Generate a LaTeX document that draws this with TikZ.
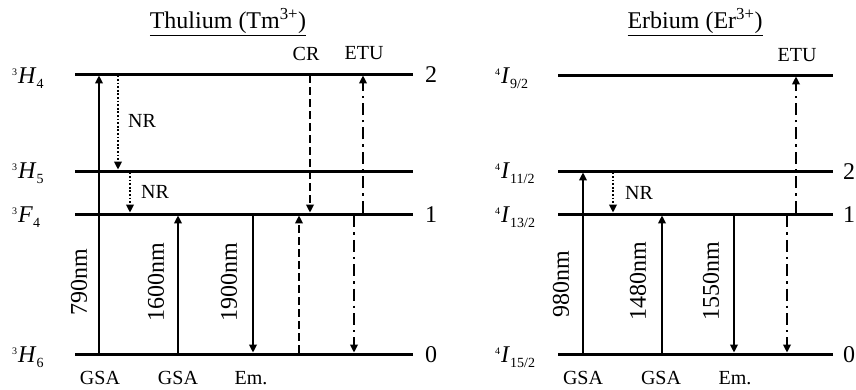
\documentclass[tikz,border=0pt]{standalone}
\usepackage{fontspec}
\setmainfont{Liberation Serif}
\usetikzlibrary{arrows.meta}
\newcommand{\levlab}[3]{{\fontsize{10}{10}\selectfont\raisebox{8pt}{#1}}\kern1pt{\fontsize{24}{24}\selectfont\textit{#2}}\raisebox{-5pt}{\fontsize{14}{14}\selectfont #3}}
\begin{document}
\begin{tikzpicture}[x=1pt,y=-1pt,
  level/.style={line width=3pt},
  tr/.style={line width=2.6pt,-{Triangle[length=8pt,width=7.5pt]},shorten >=1.4pt,shorten <=1.4pt},
  nrline/.style={tr,dash pattern=on 1.8pt off 1.8pt},
  crline/.style={tr,dash pattern=on 8pt off 4pt},
  etuline/.style={tr,dash pattern=on 12pt off 5pt on 2.4pt off 5pt},
  small/.style={font=\fontsize{20}{22}\selectfont,inner sep=0pt},
  big/.style={font=\fontsize{24}{26}\selectfont,inner sep=0pt},
  wl/.style={big,rotate=90},
  bot/.style={small,anchor=base},
  lab/.style={anchor=base west,inner sep=0pt}]
\useasboundingbox (0,0) rectangle (856,389);
% ---------- Thulium levels
\coordinate (T2l) at (75,74);  \coordinate (T2r) at (413,74);
\coordinate (T5l) at (75,171); \coordinate (T5r) at (413,171);
\coordinate (T1l) at (75,214); \coordinate (T1r) at (413,214);
\coordinate (T0l) at (75,354); \coordinate (T0r) at (413,354);
\draw[level] (T2l) -- (T2r);
\draw[level] (T5l) -- (T5r);
\draw[level] (T1l) -- (T1r);
\draw[level] (T0l) -- (T0r);
% ---------- Erbium levels
\coordinate (E2l) at (558,75);  \coordinate (E2r) at (833,75);
\coordinate (E5l) at (558,171); \coordinate (E5r) at (833,171);
\coordinate (E1l) at (558,214); \coordinate (E1r) at (833,214);
\coordinate (E0l) at (558,354); \coordinate (E0r) at (833,354);
\draw[level] (E2l) -- (E2r);
\draw[level] (E5l) -- (E5r);
\draw[level] (E1l) -- (E1r);
\draw[level] (E0l) -- (E0r);
% ---------- titles
\node[big] (tTm) at (228,22) {\underline{Thulium (Tm\textsuperscript{3+})}};
\node[big] (tEr) at (695,22) {\underline{Erbium (Er\textsuperscript{3+})}};
% ---------- level labels
\node[lab] (lT2) at (12,83) {\levlab{3}{H}{4}};
\node[lab] (lT5) at (12,178) {\levlab{3}{H}{5}};
\node[lab] (lT1) at (12,222) {\levlab{3}{F}{4}};
\node[lab] (lT0) at (12,362) {\levlab{3}{H}{6}};
\node[lab] (lE2) at (495,83) {\levlab{4}{I}{9/2}};
\node[lab] (lE5) at (495,178) {\levlab{4}{I}{11/2}};
\node[lab] (lE1) at (495,222) {\levlab{4}{I}{13/2}};
\node[lab] (lE0) at (495,362) {\levlab{4}{I}{15/2}};
% ---------- right numbers
\node[big] (nT2) at (431,75) {2};
\node[big] (nT1) at (431,215) {1};
\node[big] (nT0) at (431,355) {0};
\node[big] (nE2) at (849,172) {2};
\node[big] (nE1) at (849,215) {1};
\node[big] (nE0) at (849,355) {0};
% ---------- Thulium transitions
\coordinate (ca) at (99,0);
\coordinate (cb) at (118,0);
\coordinate (cc) at (130,0);
\coordinate (cd) at (178,0);
\coordinate (ce) at (253,0);
\coordinate (cf) at (299,0);
\coordinate (cg) at (310,0);
\coordinate (ch) at (354,0);
\coordinate (ci) at (363,0);
\draw[tr] (ca |- T0l) -- (ca |- T2l);
\draw[nrline] (cb |- T2l) -- (cb |- T5l);
\draw[nrline] (cc |- T5l) -- (cc |- T1l);
\draw[tr] (cd |- T0l) -- (cd |- T1l);
\draw[tr] (ce |- T1l) -- (ce |- T0l);
\draw[crline] (cf |- T0l) -- (cf |- T1l);
\draw[crline] (cg |- T2l) -- (cg |- T1l);
\draw[etuline] (ch |- T1l) -- (ch |- T0l);
\draw[etuline] (ci |- T1l) -- (ci |- T2l);
\node[wl] (w790) at (79,282) {790nm};
\node[wl] (w1600) at (156,282) {1600nm};
\node[wl] (w1900) at (229,282) {1900nm};
\node[small] (nr1) at (142,121) {NR};
\node[small] (nr2) at (155,192) {NR};
\node[small] (cr) at (306,54) {CR};
\node[small] (etuT) at (364,53) {ETU};
\node[bot] (g1) at (100,384) {GSA};
\node[bot] (g2) at (178,384) {GSA};
\node[bot] (em1) at (251,384) {Em.};
% ---------- Erbium transitions
\coordinate (da) at (583,0);
\coordinate (db) at (613,0);
\coordinate (dc) at (662,0);
\coordinate (dd) at (734,0);
\coordinate (de) at (787,0);
\coordinate (df) at (796,0);
\draw[tr] (da |- E0l) -- (da |- E5l);
\draw[nrline] (db |- E5l) -- (db |- E1l);
\draw[tr] (dc |- E0l) -- (dc |- E1l);
\draw[tr] (dd |- E1l) -- (dd |- E0l);
\draw[etuline] (de |- E1l) -- (de |- E0l);
\draw[etuline] (df |- E1l) -- (df |- E2l);
\node[wl] (w980) at (561,284) {980nm};
\node[wl] (w1480) at (638,281) {1480nm};
\node[wl] (w1550) at (711,281) {1550nm};
\node[small] (nr3) at (639,193) {NR};
\node[small] (etuE) at (797,55) {ETU};
\node[bot] (g3) at (583,384) {GSA};
\node[bot] (g4) at (661,384) {GSA};
\node[bot] (em2) at (735,384) {Em.};
\end{tikzpicture}
\end{document}
